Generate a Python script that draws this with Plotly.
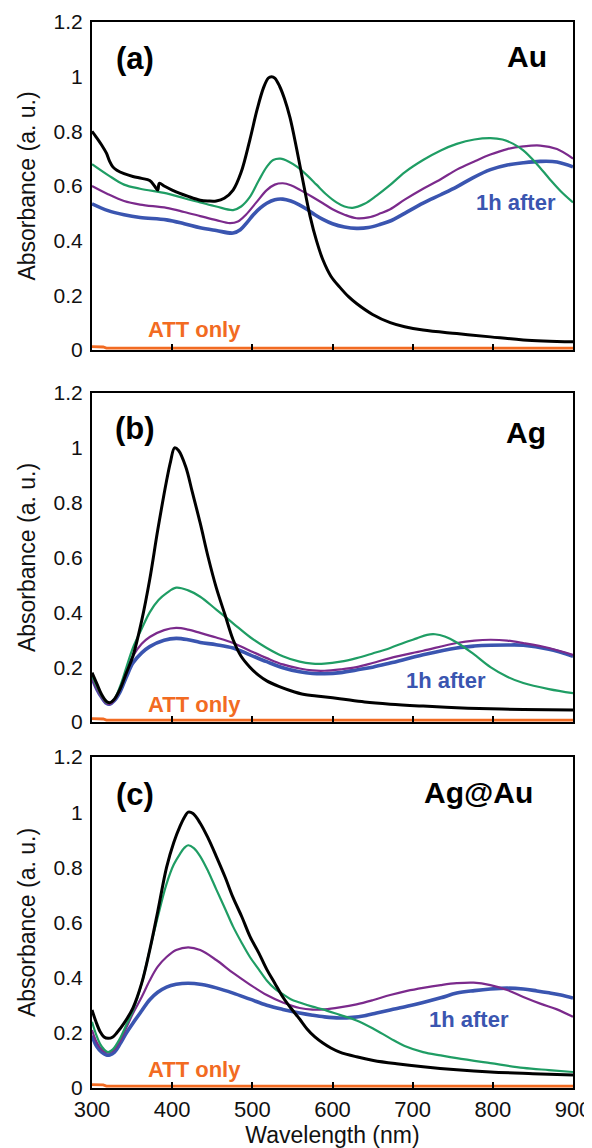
import plotly.graph_objects as go

# ---------------- data ----------------
# Panel (a) Au
au_black_x = [300, 305, 312, 318, 322, 326, 331, 340, 351, 362, 372, 378, 382, 384, 390, 400, 420, 435, 445, 455, 465, 476, 486, 497, 506, 514, 520, 524, 528, 534, 540, 547, 555, 563, 572, 580, 588, 598, 609, 620, 630, 650, 672, 690, 713, 755, 797, 838, 900]
au_black_y = [0.80, 0.78, 0.75, 0.72, 0.69, 0.67, 0.658, 0.645, 0.635, 0.628, 0.62, 0.60, 0.585, 0.61, 0.60, 0.585, 0.562, 0.548, 0.545, 0.545, 0.555, 0.585, 0.65, 0.77, 0.88, 0.96, 0.995, 1.0, 0.995, 0.965, 0.92, 0.85, 0.74, 0.62, 0.49, 0.40, 0.33, 0.27, 0.23, 0.195, 0.17, 0.13, 0.10, 0.085, 0.073, 0.06, 0.048, 0.037, 0.03]
au_green_x = [300, 320, 340, 360, 393, 415, 435, 455, 476, 486, 497, 508, 518, 526, 535, 545, 556, 568, 580, 592, 605, 615, 625, 640, 655, 672, 690, 713, 735, 755, 777, 797, 812, 825, 838, 855, 871, 885, 900]
au_green_y = [0.68, 0.64, 0.605, 0.59, 0.573, 0.555, 0.54, 0.525, 0.512, 0.525, 0.56, 0.62, 0.67, 0.695, 0.70, 0.69, 0.67, 0.64, 0.605, 0.57, 0.54, 0.525, 0.52, 0.535, 0.565, 0.604, 0.65, 0.695, 0.73, 0.754, 0.77, 0.775, 0.77, 0.755, 0.73, 0.68, 0.625, 0.58, 0.54]
au_purple_x = [300, 320, 340, 360, 393, 415, 435, 455, 472, 482, 492, 505, 518, 528, 538, 548, 560, 575, 588, 600, 615, 630, 645, 660, 672, 690, 713, 735, 755, 777, 797, 818, 838, 859, 880, 900]
au_purple_y = [0.60, 0.57, 0.545, 0.532, 0.52, 0.505, 0.49, 0.475, 0.464, 0.47, 0.495, 0.54, 0.585, 0.605, 0.61, 0.603, 0.585, 0.56, 0.537, 0.515, 0.495, 0.482, 0.485, 0.50, 0.515, 0.55, 0.59, 0.625, 0.66, 0.69, 0.715, 0.735, 0.745, 0.748, 0.735, 0.70]
au_blue_x = [300, 320, 340, 360, 393, 415, 435, 455, 476, 485, 493, 501, 510, 518, 528, 538, 548, 558, 568, 578, 588, 600, 615, 630, 645, 660, 672, 690, 713, 735, 755, 775, 797, 818, 838, 859, 880, 900]
au_blue_y = [0.535, 0.51, 0.495, 0.485, 0.476, 0.462, 0.447, 0.437, 0.428, 0.44, 0.465, 0.494, 0.52, 0.537, 0.55, 0.552, 0.545, 0.532, 0.515, 0.495, 0.478, 0.462, 0.45, 0.445, 0.448, 0.46, 0.472, 0.50, 0.537, 0.568, 0.597, 0.63, 0.66, 0.677, 0.685, 0.69, 0.688, 0.67]

# Panel (b) Ag
ag_black_x = [300, 306, 312, 318, 322, 327, 335, 343, 351, 362, 372, 382, 393, 398, 403, 408, 417, 425, 435, 445, 455, 466, 476, 486, 497, 508, 518, 533, 547, 565, 580, 609, 640, 672, 713, 755, 797, 838, 900]
ag_black_y = [0.18, 0.14, 0.10, 0.075, 0.07, 0.08, 0.12, 0.18, 0.24, 0.37, 0.52, 0.70, 0.88, 0.95, 1.0, 0.99, 0.93, 0.84, 0.725, 0.60, 0.49, 0.39, 0.30, 0.24, 0.20, 0.17, 0.15, 0.13, 0.115, 0.10, 0.095, 0.085, 0.073, 0.065, 0.058, 0.052, 0.048, 0.046, 0.044]
ag_green_x = [300, 306, 312, 318, 322, 328, 335, 343, 351, 362, 372, 383, 393, 405, 420, 435, 455, 476, 497, 518, 538, 559, 575, 590, 610, 630, 650, 672, 690, 705, 718, 728, 740, 755, 775, 797, 818, 838, 870, 900]
ag_green_y = [0.17, 0.13, 0.095, 0.072, 0.07, 0.085, 0.13, 0.20, 0.27, 0.34, 0.40, 0.445, 0.47, 0.49, 0.48, 0.457, 0.41, 0.36, 0.31, 0.27, 0.24, 0.22, 0.213, 0.213, 0.22, 0.233, 0.25, 0.27, 0.29, 0.305, 0.318, 0.32, 0.312, 0.29, 0.25, 0.20, 0.165, 0.142, 0.12, 0.105]
ag_purple_x = [300, 306, 312, 318, 322, 328, 335, 343, 351, 362, 372, 390, 405, 420, 435, 455, 476, 497, 518, 538, 559, 575, 590, 610, 630, 650, 672, 713, 755, 777, 797, 818, 838, 870, 900]
ag_purple_y = [0.16, 0.12, 0.09, 0.068, 0.065, 0.08, 0.12, 0.19, 0.24, 0.285, 0.31, 0.335, 0.343, 0.337, 0.325, 0.308, 0.288, 0.26, 0.233, 0.21, 0.195, 0.188, 0.187, 0.192, 0.20, 0.215, 0.233, 0.26, 0.288, 0.297, 0.30, 0.297, 0.288, 0.27, 0.245]
ag_blue_x = [300, 306, 312, 318, 322, 328, 335, 343, 351, 362, 372, 390, 405, 420, 435, 455, 476, 497, 518, 538, 559, 575, 590, 610, 630, 650, 672, 713, 755, 777, 797, 818, 838, 870, 900]
ag_blue_y = [0.16, 0.12, 0.09, 0.068, 0.065, 0.078, 0.11, 0.165, 0.215, 0.252, 0.275, 0.298, 0.305, 0.30, 0.29, 0.282, 0.27, 0.245, 0.22, 0.198, 0.183, 0.177, 0.176, 0.18, 0.19, 0.20, 0.215, 0.245, 0.27, 0.277, 0.28, 0.281, 0.28, 0.265, 0.24]

# Panel (c) Ag@Au
agau_black_x = [300, 305, 310, 315, 320, 326, 331, 340, 351, 362, 372, 382, 393, 402, 410, 416, 420, 426, 435, 445, 455, 466, 476, 487, 497, 508, 518, 528, 538, 548, 559, 568, 578, 588, 598, 609, 630, 651, 680, 713, 755, 797, 850, 900]
agau_black_y = [0.283, 0.24, 0.205, 0.185, 0.18, 0.185, 0.20, 0.235, 0.29, 0.38, 0.50, 0.64, 0.80, 0.89, 0.95, 0.985, 1.0, 0.995, 0.96, 0.905, 0.84, 0.765, 0.69, 0.62, 0.55, 0.49, 0.43, 0.38, 0.33, 0.29, 0.25, 0.215, 0.185, 0.163, 0.145, 0.13, 0.113, 0.10, 0.088, 0.077, 0.066, 0.058, 0.052, 0.047]
agau_green_x = [300, 305, 310, 315, 320, 326, 335, 343, 351, 362, 372, 382, 393, 402, 410, 415, 420, 427, 435, 445, 455, 466, 476, 487, 497, 508, 518, 528, 538, 548, 559, 575, 588, 609, 630, 651, 672, 690, 713, 735, 755, 797, 838, 870, 900]
agau_green_y = [0.24, 0.195, 0.16, 0.14, 0.13, 0.14, 0.18, 0.23, 0.28, 0.38, 0.50, 0.62, 0.74, 0.81, 0.85, 0.87, 0.88, 0.87, 0.84, 0.785, 0.72, 0.65, 0.585, 0.525, 0.475, 0.43, 0.39, 0.36, 0.34, 0.322, 0.31, 0.295, 0.285, 0.265, 0.245, 0.215, 0.18, 0.152, 0.13, 0.118, 0.108, 0.09, 0.073, 0.065, 0.058]
agau_purple_x = [300, 306, 312, 318, 322, 328, 335, 343, 351, 362, 372, 382, 393, 405, 420, 435, 455, 476, 497, 518, 538, 559, 575, 590, 609, 630, 650, 672, 693, 713, 735, 755, 776, 797, 818, 838, 860, 880, 900]
agau_purple_y = [0.21, 0.165, 0.14, 0.13, 0.13, 0.14, 0.17, 0.22, 0.27, 0.33, 0.39, 0.44, 0.475, 0.50, 0.51, 0.50, 0.464, 0.417, 0.375, 0.337, 0.31, 0.29, 0.284, 0.285, 0.292, 0.303, 0.318, 0.337, 0.352, 0.363, 0.373, 0.38, 0.382, 0.373, 0.355, 0.33, 0.305, 0.285, 0.258]
agau_blue_x = [300, 306, 312, 318, 322, 328, 335, 343, 351, 362, 372, 382, 393, 405, 420, 437, 455, 476, 497, 518, 538, 559, 575, 590, 609, 625, 640, 655, 672, 693, 713, 735, 755, 777, 797, 818, 838, 855, 870, 885, 900]
agau_blue_y = [0.19, 0.15, 0.13, 0.12, 0.12, 0.13, 0.16, 0.20, 0.235, 0.28, 0.32, 0.347, 0.366, 0.376, 0.38, 0.375, 0.363, 0.344, 0.322, 0.30, 0.285, 0.272, 0.264, 0.258, 0.254, 0.256, 0.262, 0.272, 0.283, 0.296, 0.31, 0.327, 0.344, 0.353, 0.359, 0.362, 0.359, 0.352, 0.345, 0.337, 0.326]

# ATT only (same in all panels)
att_x = [300, 306, 314, 318, 900]
att_y = [0.012, 0.012, 0.011, 0.007, 0.007]

panel_letters = ["(a)", "(b)", "(c)"]
panel_names = ["Au", "Ag", "Ag@Au"]
y_tickvals = [0, 0.2, 0.4, 0.6, 0.8, 1.0, 1.2]
y_ticktext = ["0", "0.2", "0.4", "0.6", "0.8", "1", "1.2"]
x_tickvals = [300, 400, 500, 600, 700, 800, 900]
x_ticktext = ["300", "400", "500", "600", "700", "800", "900"]

# ---------------- style ----------------
BLACK = "#000000"
GREEN = "#1f9d64"
PURPLE = "#7b2a8c"
BLUE = "#3a55b0"
ORANGE = "#f26b22"
FONT = "Liberation Sans, Arial, sans-serif"

panels = [
    (au_black_x, au_black_y, au_green_x, au_green_y, au_purple_x, au_purple_y, au_blue_x, au_blue_y),
    (ag_black_x, ag_black_y, ag_green_x, ag_green_y, ag_purple_x, ag_purple_y, ag_blue_x, ag_blue_y),
    (agau_black_x, agau_black_y, agau_green_x, agau_green_y, agau_purple_x, agau_purple_y, agau_blue_x, agau_blue_y),
]

# The page body has an 8px margin, so the figure is 8px smaller and margins are offset.
OFF = 8
W, H = 592 - OFF, 1148 - OFF
ml, mr, mt, mb = 92 - OFF, 19, 22 - OFF, 60
plot_bottom_page = 1088
ph = 1088 - 22
def dom(top_px, bot_px):
    return [(plot_bottom_page - bot_px) / ph, (plot_bottom_page - top_px) / ph]
domains = [dom(22, 350), dom(393, 722), dom(757, 1088)]

fig = go.Figure()
for i, (bx, by, gx, gy, px, py, ux, uy) in enumerate(panels):
    xa = "x" if i == 0 else f"x{i+1}"
    ya = "y" if i == 0 else f"y{i+1}"
    common = dict(xaxis=xa, yaxis=ya, mode="lines", showlegend=False, hoverinfo="skip")
    fig.add_trace(go.Scatter(x=att_x, y=att_y, line=dict(color=ORANGE, width=2.8), **common))
    fig.add_trace(go.Scatter(x=ux, y=uy, line=dict(color=BLUE, width=3.6, shape="spline", smoothing=1.0), **common))
    fig.add_trace(go.Scatter(x=px, y=py, line=dict(color=PURPLE, width=2.2, shape="spline", smoothing=1.0), **common))
    fig.add_trace(go.Scatter(x=gx, y=gy, line=dict(color=GREEN, width=2.2, shape="spline", smoothing=1.0), **common))
    fig.add_trace(go.Scatter(x=bx, y=by, line=dict(color=BLACK, width=3, shape="spline", smoothing=1.0), **common))

layout = dict(
    width=W, height=H,
    margin=dict(l=ml, r=mr, t=mt, b=mb),
    paper_bgcolor="white", plot_bgcolor="white",
    font=dict(family=FONT, size=22, color="#111111"),
)

xa_common = dict(range=[300, 900], showgrid=False, zeroline=False, showline=True, linecolor="black",
                 linewidth=2, mirror=True, ticks="inside", ticklen=6, tickwidth=2, tickcolor="black",
                 tickvals=x_tickvals, ticktext=x_ticktext, automargin=False, ticklabelstandoff=1,
                 tickfont=dict(size=22, family=FONT, color="#111111"))
ya_common = dict(range=[0, 1.2], showgrid=False, zeroline=False, showline=True, linecolor="black",
                 linewidth=2, mirror=True, ticks="", tickvals=y_tickvals, ticktext=y_ticktext,
                 automargin=False,
                 tickfont=dict(size=21, family=FONT, color="#111111"), ticklabelstandoff=3,
                 title=dict(text="Absorbance (a. u.)", font=dict(size=23, family=FONT, color="#111111"), standoff=12))

for i in range(3):
    kx = "xaxis" if i == 0 else f"xaxis{i+1}"
    ky = "yaxis" if i == 0 else f"yaxis{i+1}"
    xd = dict(xa_common)
    xd["anchor"] = "y" if i == 0 else f"y{i+1}"
    if i < 2:
        xd["showticklabels"] = False
    else:
        xd["title"] = dict(text="Wavelength (nm)", font=dict(size=23, family=FONT, color="#111111"), standoff=2)
    yd = dict(ya_common)
    yd["anchor"] = "x" if i == 0 else f"x{i+1}"
    yd["domain"] = domains[i]
    layout[kx] = xd
    layout[ky] = yd

fig.update_layout(**layout)

# annotations (text labels)
letter_y = [1.065, 1.07, 1.065]
name_x = [842, 841, 782]
name_y = [1.075, 1.055, 1.07]
after_x = [829, 742, 770]
after_y = [0.54, 0.15, 0.25]
att_lbl_y = [0.075, 0.064, 0.067]
for i in range(3):
    xr = "x" if i == 0 else f"x{i+1}"
    yr = "y" if i == 0 else f"y{i+1}"
    fig.add_annotation(x=354, y=letter_y[i], xref=xr, yref=yr, text=f"<b>{panel_letters[i]}</b>", showarrow=False,
                       font=dict(size=31, family=FONT, color="black"))
    fig.add_annotation(x=name_x[i], y=name_y[i], xref=xr, yref=yr, text=f"<b>{panel_names[i]}</b>", showarrow=False,
                       font=dict(size=30, family=FONT, color="black"))
    fig.add_annotation(x=after_x[i], y=after_y[i], xref=xr, yref=yr, text="<b>1h after</b>", showarrow=False,
                       font=dict(size=22, family=FONT, color=BLUE))
    fig.add_annotation(x=428, y=att_lbl_y[i], xref=xr, yref=yr, text="<b>ATT only</b>", showarrow=False,
                       font=dict(size=22, family=FONT, color=ORANGE))

fig.write_html("out.html")
